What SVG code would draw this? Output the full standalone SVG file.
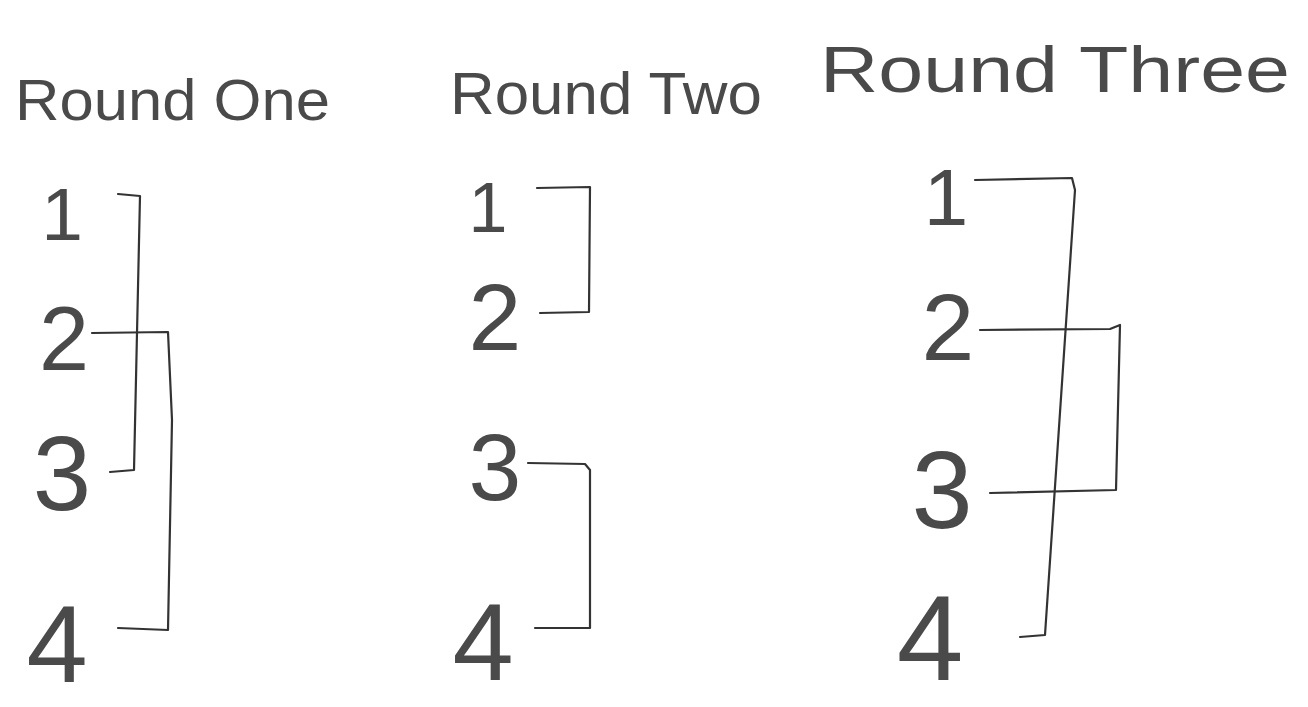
<svg xmlns="http://www.w3.org/2000/svg" width="1308" height="707" viewBox="0 0 1308 707">
<style>
.t{font-family:"Liberation Sans","DejaVu Sans",sans-serif;fill:#4a4a4a;}
.n{font-family:"Liberation Sans","DejaVu Sans",sans-serif;fill:#4a4a4a;text-anchor:middle;}
.c{fill:none;stroke:#333;stroke-width:2.2;stroke-linecap:round;stroke-linejoin:round;}
</style>
<rect width="1308" height="707" fill="#fff"/>
<g id="titles">
<text id="title1" class="t" x="15" y="120" font-size="58" textLength="315" lengthAdjust="spacingAndGlyphs">Round One</text>
<text id="title2" class="t" x="450" y="114" font-size="60" textLength="312" lengthAdjust="spacingAndGlyphs">Round Two</text>
<text id="title3" class="t" x="820" y="92" font-size="64" textLength="470" lengthAdjust="spacingAndGlyphs">Round Three</text>
</g>
<g id="round1">
<text id="r1n1" class="n" x="62" y="240" font-size="75">1</text>
<text id="r1n2" class="n" x="64" y="370" font-size="90">2</text>
<text id="r1n3" class="n" x="62" y="510" font-size="105">3</text>
<text id="r1n4" class="n" x="57" y="682" font-size="110">4</text>
</g>
<g id="round2">
<text id="r2n1" class="n" x="488" y="232" font-size="70">1</text>
<text id="r2n2" class="n" x="495" y="350" font-size="95">2</text>
<text id="r2n3" class="n" x="495" y="500" font-size="95">3</text>
<text id="r2n4" class="n" x="483" y="680" font-size="110">4</text>
</g>
<g id="round3">
<text id="r3n1" class="n" x="946" y="225" font-size="80">1</text>
<text id="r3n2" class="n" x="948" y="360" font-size="95">2</text>
<text id="r3n3" class="n" x="942" y="528" font-size="110">3</text>
<text id="r3n4" class="n" x="930" y="680" font-size="120">4</text>
</g>
<g id="connectors">
<path class="c" d="M118 194 L140 196 L134 470 L110 472"/>
<path class="c" d="M92 333 L168 332 L172 420 L168 630 L118 628"/>
<path class="c" d="M537 188 L590 187 L589 312 L540 313"/>
<path class="c" d="M528 463 L585 464 L590 470 L590 628 L535 628"/>
<path class="c" d="M975 180 L1072 178 L1075 190 L1045 635 L1020 637"/>
<path class="c" d="M980 330 L1110 329 L1120 325 L1116 490 L990 493"/>
</g>
</svg>
